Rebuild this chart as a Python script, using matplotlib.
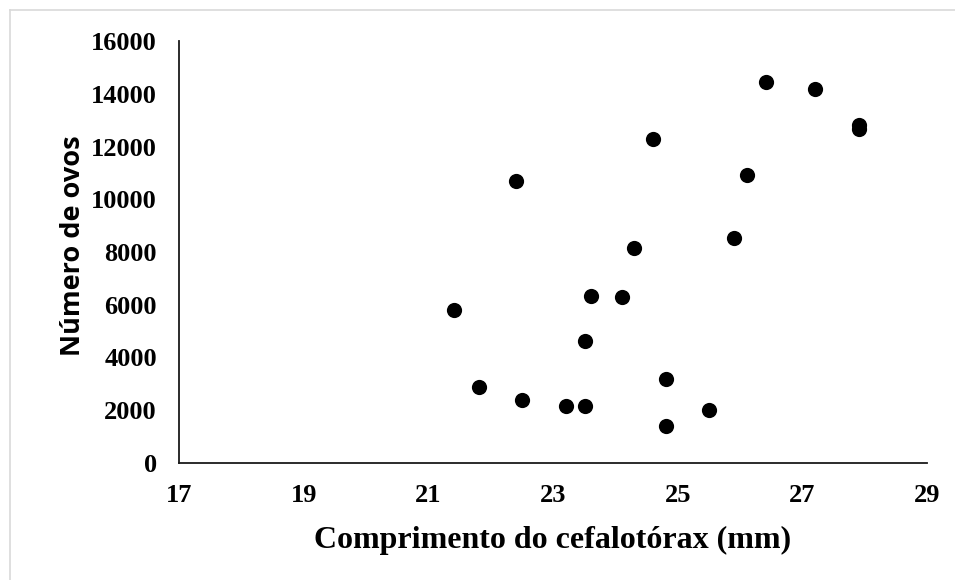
import matplotlib
matplotlib.use("Agg")
import matplotlib.pyplot as plt
from matplotlib.lines import Line2D

# Comprimento do cefalotórax (mm) e número de ovos por fêmea
comprimento = [26.41, 27.20, 27.91, 27.91, 24.60, 26.11, 25.91, 24.30, 23.61, 24.11,
               23.51, 24.81, 23.21, 23.51, 25.51, 24.81, 22.41, 21.41, 21.81, 22.51]
ovos = [14440, 14180, 12830, 12650, 12290, 10920, 8540, 8150, 6350, 6280,
        4610, 3180, 2150, 2150, 2020, 1390, 10700, 5810, 2900, 2370]

x_ticks = [17, 19, 21, 23, 25, 27, 29]
y_ticks = [0, 2000, 4000, 6000, 8000, 10000, 12000, 14000, 16000]

W, H = 955, 580
fig = plt.figure(figsize=(W / 100, H / 100), dpi=100)
fig.patch.set_facecolor("white")

# chart-area frame (top and left edges)
fig.add_artist(Line2D([10 / W, 10 / W], [0, 1 - 10 / H], transform=fig.transFigure,
                      color="#d9d9d9", lw=1.2))
fig.add_artist(Line2D([10 / W, 1], [1 - 10 / H, 1 - 10 / H], transform=fig.transFigure,
                      color="#d9d9d9", lw=1.2))

left, right, top, bottom = 179, 927, 41, 463
ax = fig.add_axes([left / W, 1 - bottom / H, (right - left) / W, (bottom - top) / H])

ax.scatter(comprimento, ovos, s=120, color="black", zorder=3, linewidths=0)

ax.set_xlim(17, 29)
ax.set_ylim(0, 16000)
ax.set_xticks(x_ticks)
ax.set_yticks(y_ticks)

serif = "Liberation Serif"
ax.set_xticklabels([str(v) for v in x_ticks], fontfamily=serif, fontweight="bold", fontsize=19)
ax.set_yticklabels([str(v) for v in y_ticks], fontfamily=serif, fontweight="bold", fontsize=19)
ax.tick_params(axis="both", length=0)
ax.tick_params(axis="x", pad=15)
ax.tick_params(axis="y", pad=16)

for side in ("top", "right"):
    ax.spines[side].set_visible(False)
for side in ("left", "bottom"):
    ax.spines[side].set_linewidth(1.3)
    ax.spines[side].set_color("#1a1a1a")

ax.set_xlabel("Comprimento do cefalotórax (mm)", fontfamily=serif, fontweight="bold",
              fontsize=23, labelpad=14)
ax.set_ylabel("Número de ovos", fontfamily="Open Sans", fontweight="bold",
              fontsize=19.5)
ax.yaxis.set_label_coords(-0.125, 0.514)

fig.savefig("out.png", dpi=100, facecolor="white")
